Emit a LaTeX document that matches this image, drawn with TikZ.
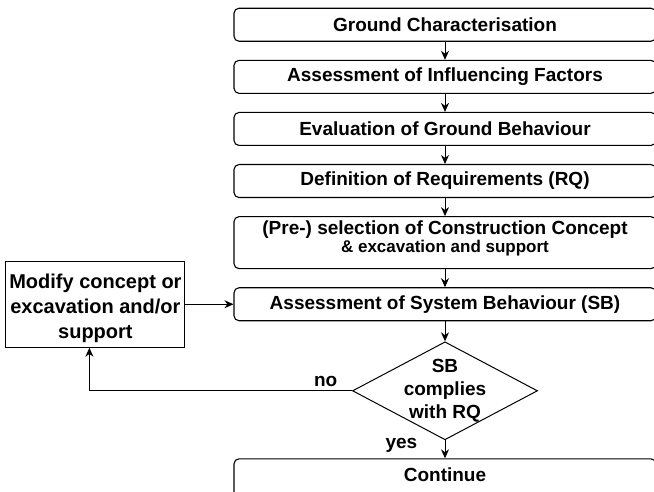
\documentclass[tikz,border=0pt]{standalone}
\usepackage{fontspec}
\setmainfont{Liberation Sans}
\usetikzlibrary{positioning, shapes.geometric, arrows.meta}

\begin{document}
\begin{tikzpicture}[x=1pt, y=-1pt, node distance=18pt,
    font=\fontsize{19}{23}\selectfont\bfseries,
    stage/.style={draw, rounded corners=5pt, line width=1.1pt,
        minimum width=422pt, minimum height=33pt, align=center},
    check/.style={draw, diamond, aspect=1.89, line width=1pt, inner sep=-3.5pt,
        minimum width=185pt, minimum height=98pt, align=center},
    modbox/.style={draw, line width=1.1pt, minimum width=179pt,
        minimum height=86pt, align=center,
        font=\fontsize{20}{25}\selectfont\bfseries},
    flow/.style={-{Stealth[length=9pt, width=8pt]}, line width=0.9pt}]
    \useasboundingbox (0,0) rectangle (654,492);
    \clip (0,0) rectangle (654,492);

    \node[stage] (ground) at (445,24.75) {Ground Characterisation};
    \node[stage] (factors) [below=of ground] {Assessment of Influencing Factors};
    \node[stage] (behaviour) [below=of factors] {Evaluation of Ground Behaviour};
    \node[stage] (reqs) [below=of behaviour] {Definition of Requirements (RQ)};
    \node[stage, minimum height=52pt, text depth=11.5pt] (concept) [below=of reqs]
        {(Pre-) selection of Construction Concept\\[-5pt]{\fontsize{17}{19}\selectfont \& excavation and support}};
    \node[stage] (system) [below=of concept] {Assessment of System Behaviour (SB)};
    \node[check] (complies) [below=20pt of system] {SB\\complies\\with RQ};
    \node[stage, minimum height=42pt, text depth=10pt] (continue) [below=18pt of complies] {Continue};
    \node[modbox] (modify) [left=48pt of system] {\rule{0pt}{22pt}Modify concept or\\excavation and/or\\support};

    \path[flow]
    (ground)    edge (factors)
    (factors)   edge (behaviour)
    (behaviour) edge (reqs)
    (reqs)      edge (concept)
    (concept)   edge (system)
    (system)    edge (complies)
    (complies)  edge node[left=24pt, pos=0.3] {yes} (continue)
    (modify)    edge (system);
    \draw[flow] (complies.west) -| node[above, pos=0.05] {no} ([xshift=-6pt]modify.south);
\end{tikzpicture}
\end{document}
